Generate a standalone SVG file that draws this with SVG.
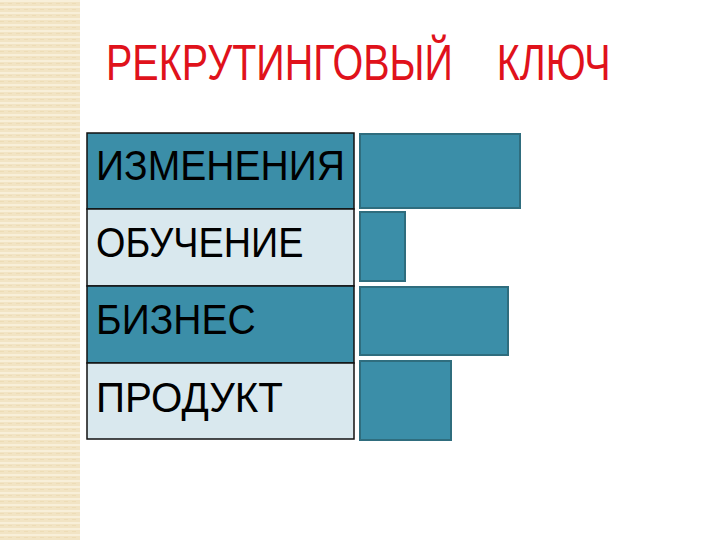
<svg xmlns="http://www.w3.org/2000/svg" width="720" height="540" viewBox="0 0 720 540">
<defs>
<pattern id="stripes" width="8" height="6" patternUnits="userSpaceOnUse">
<rect width="8" height="6" fill="#f2e4c4"/>
<rect y="0" width="8" height="2" fill="#f8efd9"/>
<rect x="0" y="3" width="4" height="1" fill="#eddcb6"/>
</pattern>
<style>
.lbl{font-family:"Liberation Sans",Arial,sans-serif;font-size:42px;fill:#000}
.dark{fill:#3b8ea8;stroke:#111;stroke-width:1.5}
.light{fill:#d9e8ee;stroke:#111;stroke-width:1.5}
.bar{fill:#3b8ea8;stroke:#2f6d7e;stroke-width:2}
</style>
</defs>
<rect width="720" height="540" fill="#fff"/>
<rect x="0" y="0" width="80" height="540" fill="url(#stripes)"/>
<text transform="translate(106,80) scale(0.79,1)" x="0" y="0" xml:space="preserve" style="white-space:pre" font-family="Liberation Sans,Arial,sans-serif" font-size="50" fill="#e0121b">РЕКРУТИНГОВЫЙ    КЛЮЧ</text>
<g id="row1"><rect class="dark" x="87" y="133" width="267" height="76"/><text class="lbl" transform="translate(96,180) scale(0.93,1)" x="0" y="0">ИЗМЕНЕНИЯ</text></g>
<g id="row2"><rect class="light" x="87" y="209" width="267" height="77"/><text class="lbl" transform="translate(96,257) scale(0.9,1)" x="0" y="0">ОБУЧЕНИЕ</text></g>
<g id="row3"><rect class="dark" x="87" y="286" width="267" height="77"/><text class="lbl" transform="translate(96,334) scale(0.93,1)" x="0" y="0">БИЗНЕС</text></g>
<g id="row4"><rect class="light" x="87" y="363" width="267" height="76"/><text class="lbl" transform="translate(96,412) scale(0.96,1)" x="0" y="0">ПРОДУКТ</text></g>
<g id="bar1"><rect class="bar" x="360" y="134" width="160" height="74"/></g>
<g id="bar2"><rect class="bar" x="360" y="212" width="45" height="69"/></g>
<g id="bar3"><rect class="bar" x="360" y="287" width="148" height="68"/></g>
<g id="bar4"><rect class="bar" x="360" y="361" width="91" height="79"/></g>
<g id="connectors"></g>
</svg>
